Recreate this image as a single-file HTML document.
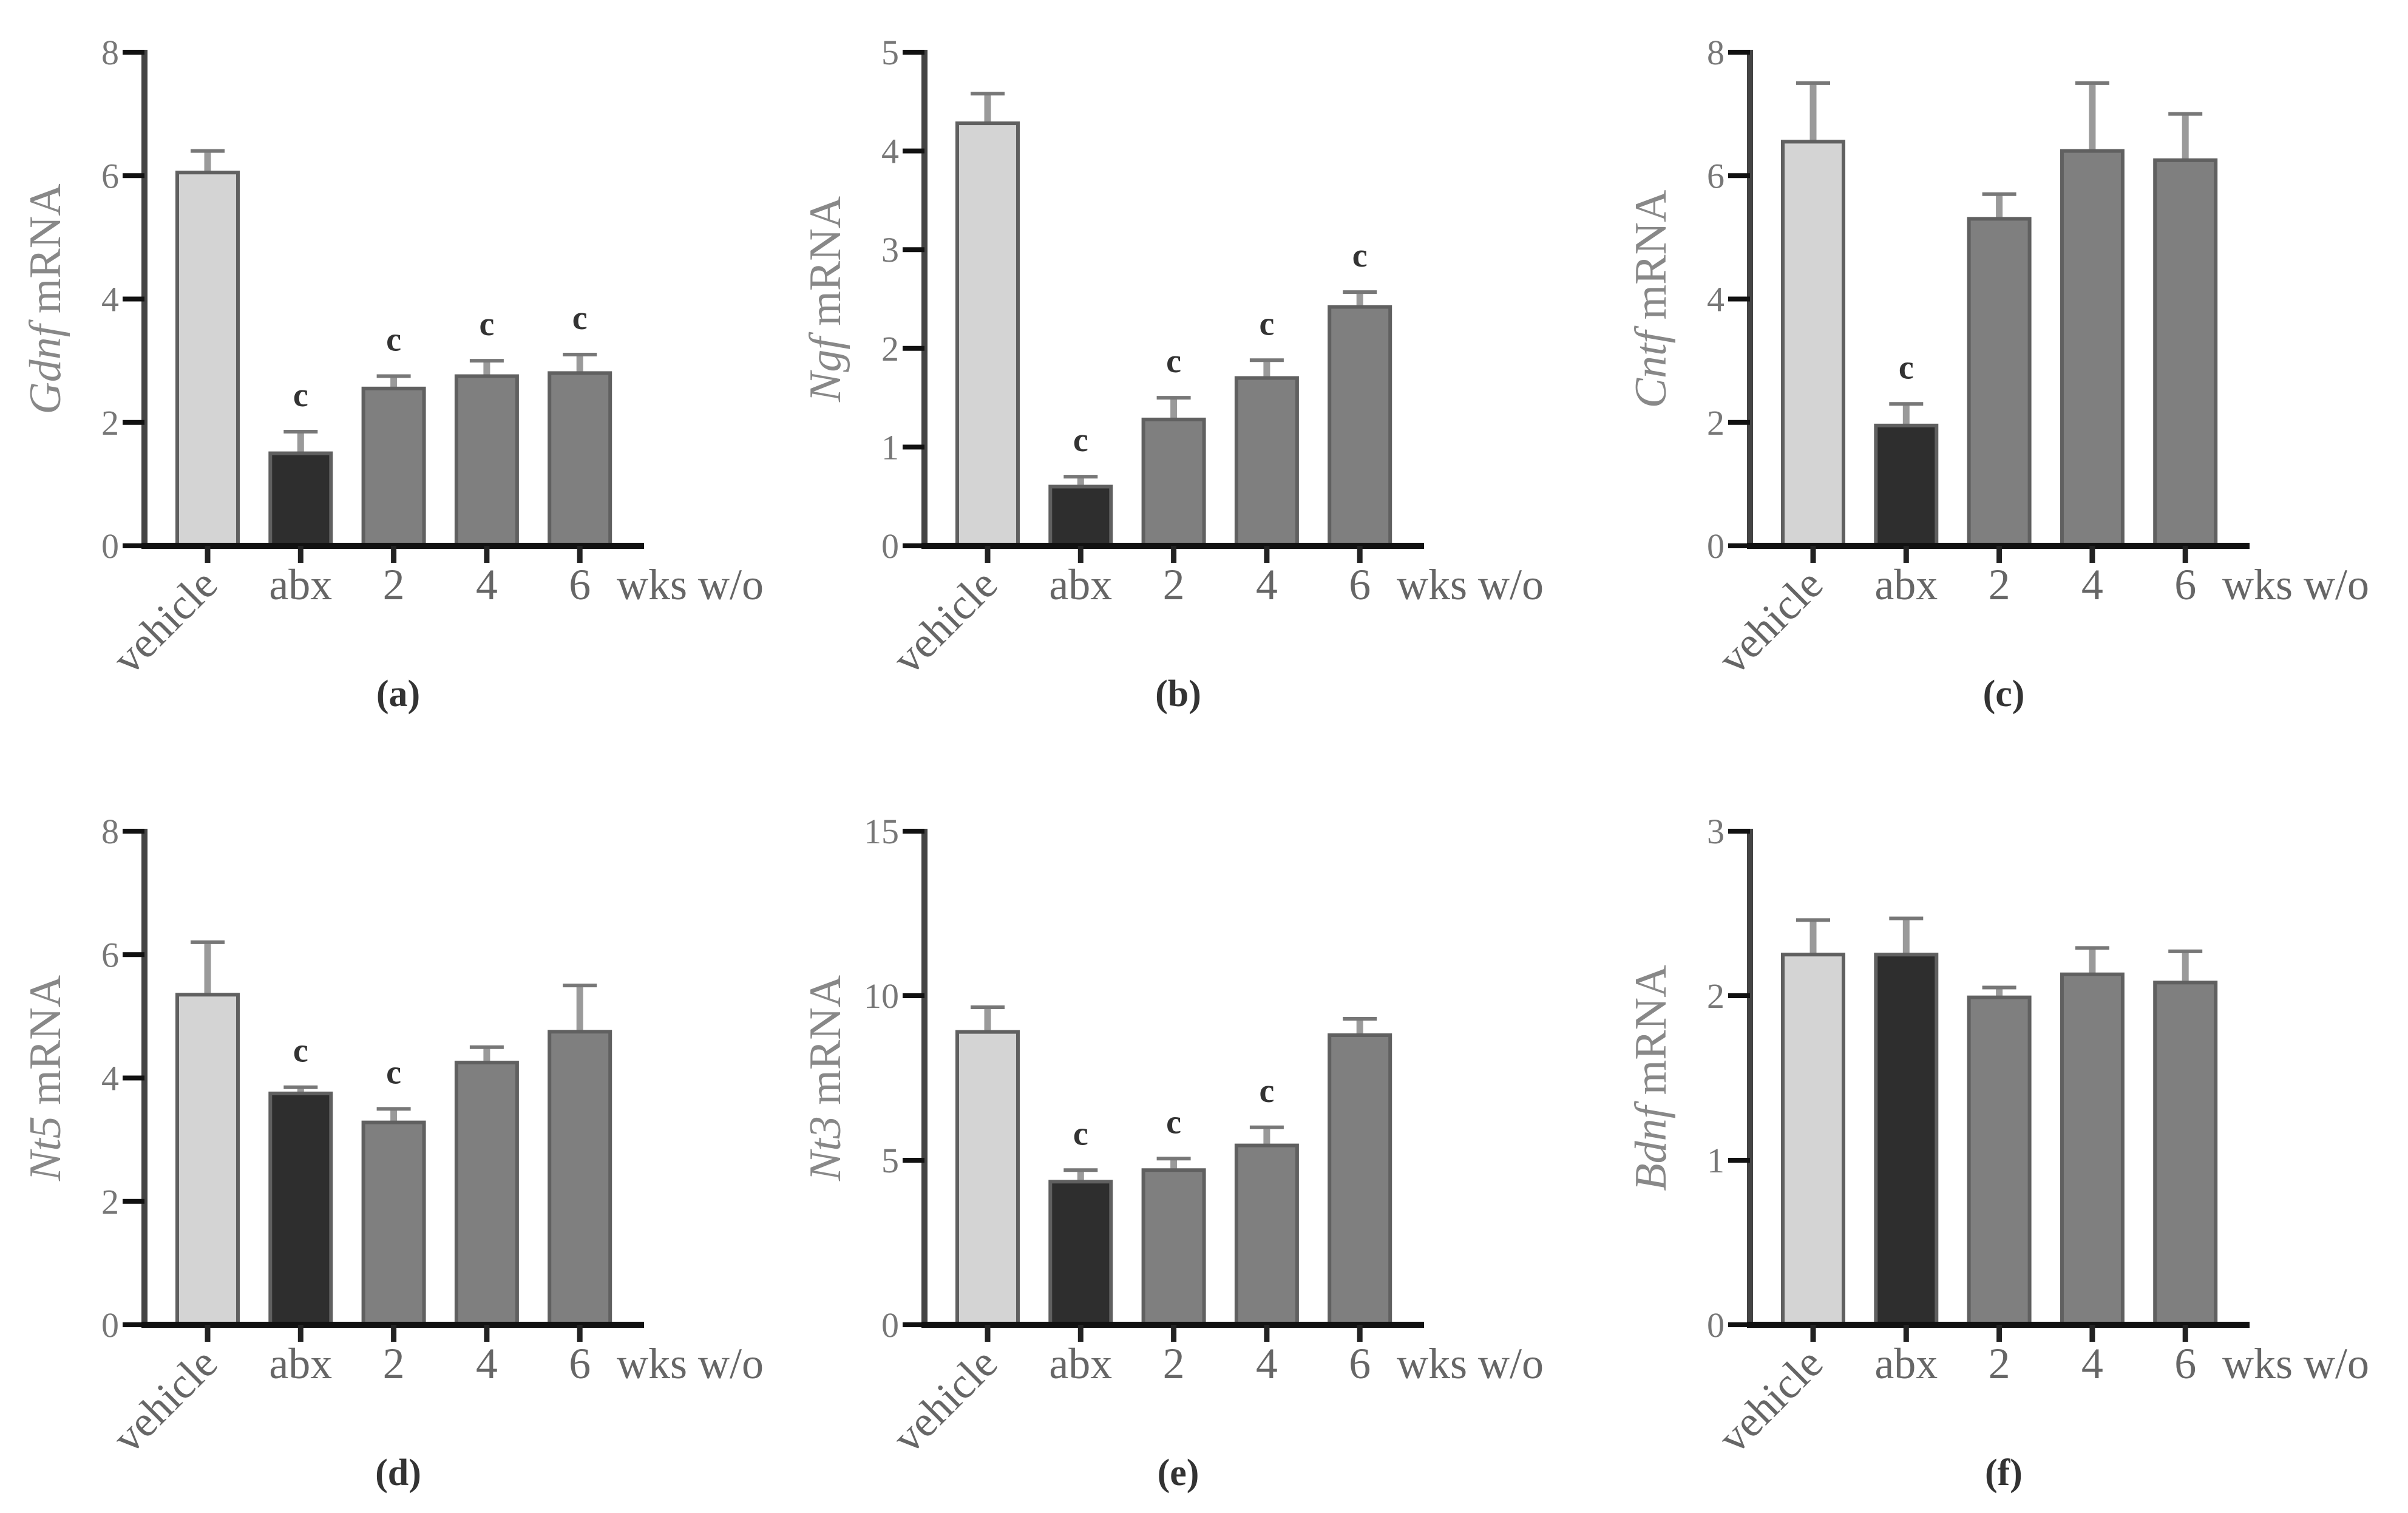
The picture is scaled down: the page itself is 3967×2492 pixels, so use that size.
<!DOCTYPE html>
<html><head><meta charset="utf-8"><style>
html,body{margin:0;padding:0;background:#fff;}
svg{display:block;font-family:"Liberation Serif",serif;}
</style></head><body>
<svg id="fig" width="3967" height="2492" viewBox="0 0 3967 2492" xmlns="http://www.w3.org/2000/svg"></svg>
<script>
const categories = ["vehicle","abx","2","4","6"];
const panelLetters = ["(a)","(b)","(c)","(d)","(e)","(f)"];
const genes = ["Gdnf","Ngf","Cntf","Nt5","Nt3","Bdnf"];
const yMaxes = [8,5,8,8,15,3];
const yTicksA = [0,2,4,6,8];
const yTicksB = [0,1,2,3,4,5];
const yTicksC = [0,2,4,6,8];
const yTicksD = [0,2,4,6,8];
const yTicksE = [0,5,10,15];
const yTicksF = [0,1,2,3];
const meansA = [6.05,1.5,2.55,2.75,2.8];
const errTopA = [6.4,1.85,2.75,3.0,3.1];
const sigA = [0,1,1,1,1];
const meansB = [4.28,0.6,1.28,1.7,2.42];
const errTopB = [4.58,0.7,1.5,1.88,2.57];
const sigB = [0,1,1,1,1];
const meansC = [6.55,1.95,5.3,6.4,6.25];
const errTopC = [7.5,2.3,5.7,7.5,7.0];
const sigC = [0,1,0,0,0];
const meansD = [5.35,3.75,3.28,4.25,4.75];
const errTopD = [6.2,3.85,3.5,4.5,5.5];
const sigD = [0,1,1,0,0];
const meansE = [8.9,4.35,4.7,5.45,8.8];
const errTopE = [9.65,4.7,5.05,6.0,9.3];
const sigE = [0,1,1,1,0];
const meansF = [2.25,2.25,1.99,2.13,2.08];
const errTopF = [2.46,2.47,2.05,2.29,2.27];
const sigF = [0,0,0,0,0];

const allTicks=[yTicksA,yTicksB,yTicksC,yTicksD,yTicksE,yTicksF];
const allMeans=[meansA,meansB,meansC,meansD,meansE,meansF];
const allErr=[errTopA,errTopB,errTopC,errTopD,errTopE,errTopF];
const allSig=[sigA,sigB,sigC,sigD,sigE,sigF];
const origins=[[238,899],[1523,899],[2883,899],[238,2182],[1523,2182],[2883,2182]];
const fills=["#d4d4d4","#2e2e2e","#7f7f7f","#7f7f7f","#7f7f7f"];
const NS="http://www.w3.org/2000/svg";
const svg=document.getElementById('fig');
function mk(tag,attrs,parent){const e=document.createElementNS(NS,tag);for(const k in attrs)e.setAttribute(k,attrs[k]);(parent||svg).appendChild(e);return e;}

for(let p=0;p<6;p++){
  const [ox,oy]=origins[p];
  const H=813, step=153.3, bw=100;
  const ymax=yMaxes[p];
  const ys=v=>oy-v/ymax*H;
  const xs=i=>ox+104+i*step;
  const g=mk('g',{});
  
  
  // bars & error bars
  allMeans[p].forEach((v,i)=>{
    const e=allErr[p][i];
    const el=mk('line',{x1:xs(i),x2:xs(i),y1:ys(v),y2:ys(e),stroke:'#9a9a9a','stroke-width':11},g);
    
    
    const cap=mk('line',{x1:xs(i)-28,x2:xs(i)+28,y1:ys(e),y2:ys(e),stroke:'#777','stroke-width':6},g);
    
    
    const r=mk('rect',{x:xs(i)-bw/2,y:ys(v),width:bw,height:oy-ys(v),fill:fills[i],stroke:'#606060','stroke-width':6},g);
    
    
    if(allSig[p][i]){
      const t=mk('text',{x:xs(i),y:ys(e)-42,'text-anchor':'middle','font-size':56,'font-weight':'bold',fill:'#333'},g);
      t.textContent='c';
      
      
    }
  });
  // y axis
  const ya=mk('line',{x1:ox,x2:ox,y1:oy-H-4,y2:oy,stroke:'#444','stroke-width':10},g);
  
  
  allTicks[p].forEach(t=>{
    const tk=mk('line',{x1:ox-36,x2:ox,y1:ys(t),y2:ys(t),stroke:'#111','stroke-width':8},g);
    
    
    const tl=mk('text',{x:ox-42,y:ys(t)+20,'text-anchor':'end','font-size':58,fill:'#777'},g);
    tl.textContent=t;
    
    
  });
  // x axis
  const xa=mk('line',{x1:ox-5,x2:ox+823,y1:oy,y2:oy,stroke:'#111','stroke-width':10},g);
  
  
  categories.forEach((c,i)=>{
    const tk=mk('line',{x1:xs(i),x2:xs(i),y1:oy,y2:oy+28,stroke:'#222','stroke-width':9},g);
    
    
    let tl;
    if(i===0){
      tl=mk('text',{x:xs(i)+20,y:oy+68,'text-anchor':'end','font-size':72,fill:'#666',transform:`rotate(-45 ${xs(i)+20} ${oy+68})`},g);
    } else {
      tl=mk('text',{x:xs(i),y:oy+88,'text-anchor':'middle','font-size':72,fill:'#666'},g);
    }
    tl.textContent=c;
    
    
  });
  const wk=mk('text',{x:ox+778,y:oy+88,'font-size':72,fill:'#666'},g);
  wk.textContent='wks w/o';
  
  
  // y label
  const cy=oy-H/2, cx=ox-163;
  const yl=mk('text',{x:cx,y:cy,'text-anchor':'middle','dominant-baseline':'central','font-size':74,fill:'#888',transform:`rotate(-90 ${cx} ${cy})`},g);
  
  
  const it=mk('tspan',{'font-style':'italic'},yl); it.textContent=genes[p];
  const rest=mk('tspan',{},yl); rest.textContent=' mRNA';
  // caption
  const cap=mk('text',{x:ox+418,y:oy+264,'text-anchor':'middle','font-size':62,'font-weight':'bold',fill:'#333'},g);
  cap.textContent=panelLetters[p];
  
  
}
</script>
</body></html>
